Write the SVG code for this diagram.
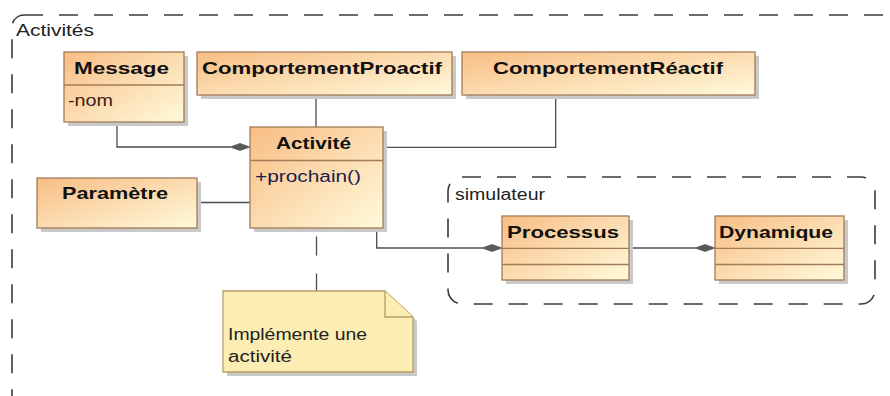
<svg xmlns="http://www.w3.org/2000/svg" width="890" height="396" viewBox="0 0 890 396">
  <defs>
    <linearGradient id="cls" x1="0" y1="0" x2="1" y2="1">
      <stop offset="0" stop-color="#F8BD84"/>
      <stop offset="1" stop-color="#FFFADB"/>
    </linearGradient>
    <style>
      .pkg { fill: none; stroke: #3a3a3a; stroke-width: 1.6; stroke-dasharray: 19 16; }
      .box { fill: url(#cls); stroke: #A27B58; stroke-width: 1.3; }
      .div { stroke: #A27B58; stroke-width: 1.3; fill: none; }
      .shadow { fill: #C9C9C9; }
      .note { fill: #FCEEB2; stroke: #B39E64; stroke-width: 1.3; }
      .conn { fill: none; stroke: #4d4d4d; stroke-width: 1.3; }
      .dash { fill: none; stroke: #4d4d4d; stroke-width: 1.3; stroke-dasharray: 19 18; }
      .dia { fill: #5a5a5a; stroke: #5a5a5a; stroke-width: 0.8; }
      text { font-family: "Liberation Sans", Arial, sans-serif; font-size: 16px; fill: #111; }
      .b { font-weight: bold; font-size: 17px; }
      .attr { fill: #3a1a1a; }
      .op { fill: #1d1d4a; }
      .lbl { fill: #222; }
    </style>
  </defs>

  <g id="pkg-activites">
    <rect class="pkg" x="12" y="15" width="886" height="392" rx="12"/>
    <text class="lbl" x="16" y="36" textLength="78" lengthAdjust="spacingAndGlyphs">Activités</text>
  </g>

  <g id="pkg-simulateur">
    <rect class="pkg" x="448" y="177" width="427" height="127" rx="14"/>
    <text class="lbl" x="455" y="200" textLength="90" lengthAdjust="spacingAndGlyphs">simulateur</text>
  </g>

  <g id="connectors">
    <path class="conn" d="M117,122 V147 H230"/>
    <polygon class="dia" points="250,147 240,143.5 230,147 240,150.5"/>
    <path class="conn" d="M316,95 V127"/>
    <path class="conn" d="M555.7,95 V147.3 H383"/>
    <path class="conn" d="M197,202.5 H250"/>
    <path class="conn" d="M376.7,228 V248 H482"/>
    <polygon class="dia" points="502,248 492,244.5 482,248 492,251.5"/>
    <path class="conn" d="M629,248 H695"/>
    <polygon class="dia" points="715,248 705,244.5 695,248 705,251.5"/>
    <path class="dash" d="M316.5,236.5 V291"/>
  </g>

  <g id="message">
    <rect class="shadow" x="68" y="56" width="120" height="70"/>
    <rect class="box" x="64" y="52" width="120" height="70"/>
    <line class="div" x1="64" y1="85" x2="184" y2="85"/>
    <text class="b" x="74" y="74" textLength="95" lengthAdjust="spacingAndGlyphs">Message</text>
    <text class="attr" x="68" y="106" textLength="45" lengthAdjust="spacingAndGlyphs">-nom</text>
  </g>

  <g id="comportement-proactif">
    <rect class="shadow" x="201" y="56" width="255" height="43"/>
    <rect class="box" x="197" y="52" width="255" height="43"/>
    <text class="b" x="202" y="74" textLength="240" lengthAdjust="spacingAndGlyphs">ComportementProactif</text>
  </g>

  <g id="comportement-reactif">
    <rect class="shadow" x="466" y="56" width="293" height="43"/>
    <rect class="box" x="462" y="52" width="293" height="43"/>
    <text class="b" x="493" y="74" textLength="230" lengthAdjust="spacingAndGlyphs">ComportementRéactif</text>
  </g>

  <g id="activite">
    <rect class="shadow" x="254" y="131" width="133" height="101"/>
    <rect class="box" x="250" y="127" width="133" height="101"/>
    <line class="div" x1="250" y1="160.5" x2="383" y2="160.5"/>
    <text class="b" x="276" y="149" textLength="75" lengthAdjust="spacingAndGlyphs">Activité</text>
    <text class="op" x="255" y="182" textLength="106" lengthAdjust="spacingAndGlyphs">+prochain()</text>
  </g>

  <g id="parametre">
    <rect class="shadow" x="41" y="182" width="160" height="50"/>
    <rect class="box" x="37" y="178" width="160" height="50"/>
    <text class="b" x="62" y="199" textLength="106" lengthAdjust="spacingAndGlyphs">Paramètre</text>
  </g>

  <g id="processus">
    <rect class="shadow" x="506" y="220" width="127" height="64"/>
    <rect class="box" x="502" y="216" width="127" height="64"/>
    <line class="div" x1="502" y1="248.3" x2="629" y2="248.3"/>
    <line class="div" x1="502" y1="264.5" x2="629" y2="264.5"/>
    <text class="b" x="507" y="237.5" textLength="112" lengthAdjust="spacingAndGlyphs">Processus</text>
  </g>

  <g id="dynamique">
    <rect class="shadow" x="719" y="220" width="129" height="64"/>
    <rect class="box" x="715" y="216" width="129" height="64"/>
    <line class="div" x1="715" y1="248.3" x2="844" y2="248.3"/>
    <line class="div" x1="715" y1="264.5" x2="844" y2="264.5"/>
    <text class="b" x="719" y="237.5" textLength="114" lengthAdjust="spacingAndGlyphs">Dynamique</text>
  </g>

  <g id="note">
    <polygon class="shadow" points="227,295 389,295 417,321 417,376 227,376"/>
    <polygon class="note" points="223,291 385,291 413,317 413,372 223,372"/>
    <polyline class="note" points="385,291 385,317 413,317"/>
    <text class="lbl" x="228" y="340" textLength="139" lengthAdjust="spacingAndGlyphs">Implémente une</text>
    <text class="lbl" x="228" y="361.5" textLength="64" lengthAdjust="spacingAndGlyphs">activité</text>
  </g>
</svg>
